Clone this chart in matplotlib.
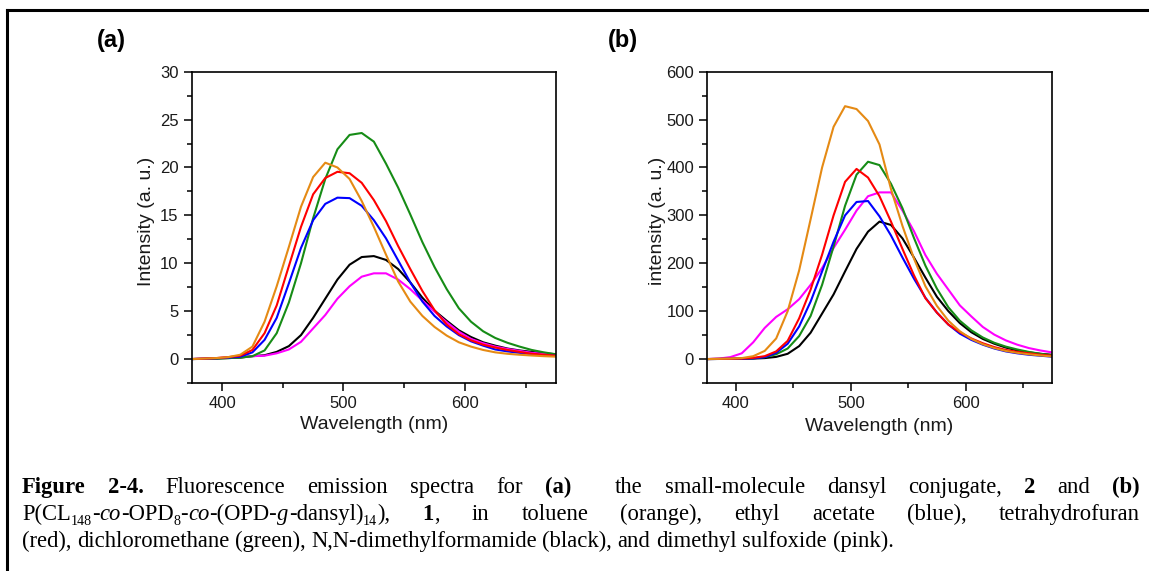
import matplotlib
matplotlib.use("Agg")
import matplotlib.pyplot as plt
from matplotlib.ticker import MultipleLocator
from matplotlib.lines import Line2D
from matplotlib.transforms import IdentityTransform

# ---------------- data ----------------
wavelength = list(range(375, 676, 10))  # nm

# panel (a): small-molecule dansyl conjugate 2
a_toluene = [0.0, 0.05, 0.1, 0.2, 0.45, 1.3, 3.9, 7.6, 11.7, 15.9, 19.0, 20.5, 20.0, 18.8, 16.5, 13.8,
             10.9, 8.1, 6.0, 4.5, 3.35, 2.45, 1.75, 1.3, 0.95, 0.7, 0.55, 0.45, 0.37, 0.3, 0.25]
a_ethyl_acetate = [0.0, 0.03, 0.08, 0.15, 0.25, 0.7, 2.0, 4.3, 7.9, 11.6, 14.5, 16.2, 16.85, 16.8, 16.0, 14.5,
                   12.6, 10.3, 8.0, 6.0, 4.5, 3.4, 2.5, 1.85, 1.4, 1.0, 0.8, 0.65, 0.5, 0.4, 0.35]
a_thf = [0.0, 0.05, 0.1, 0.2, 0.35, 0.95, 2.7, 5.6, 9.7, 13.8, 17.2, 18.9, 19.55, 19.4, 18.4, 16.6,
         14.4, 11.8, 9.4, 7.1, 5.1, 3.6, 2.6, 1.95, 1.5, 1.2, 0.95, 0.75, 0.55, 0.45, 0.35]
a_dcm = [0.0, 0.02, 0.05, 0.1, 0.15, 0.3, 0.9, 2.7, 5.9, 10.0, 14.7, 18.8, 21.9, 23.4, 23.6, 22.7,
         20.4, 17.9, 15.1, 12.2, 9.6, 7.3, 5.3, 3.9, 2.9, 2.2, 1.7, 1.3, 0.95, 0.7, 0.5]
a_dmf = [0.0, 0.02, 0.05, 0.1, 0.15, 0.3, 0.4, 0.75, 1.35, 2.5, 4.3, 6.3, 8.3, 9.85, 10.65, 10.75,
         10.35, 9.4, 8.0, 6.4, 5.05, 4.0, 3.0, 2.3, 1.75, 1.4, 1.1, 0.9, 0.75, 0.6, 0.5]
a_dmso = [0.0, 0.05, 0.1, 0.15, 0.2, 0.3, 0.35, 0.6, 1.0, 1.8, 3.2, 4.6, 6.3, 7.6, 8.6, 8.95,
          8.95, 8.3, 7.3, 6.1, 4.95, 3.85, 2.85, 2.1, 1.65, 1.3, 1.05, 0.85, 0.65, 0.55, 0.45]

# panel (b): polymer 1
b_toluene = [0, 0.5, 1, 2, 6, 17, 43, 100, 185, 292, 400, 485, 528, 522, 497, 448,
             355, 278, 210, 152, 111, 80, 58, 42, 31, 23, 17, 13, 10, 7.5, 5.5]
b_ethyl_acetate = [0, 0.2, 0.4, 0.6, 1.5, 4, 13, 32, 68, 120, 183, 245, 300, 328, 330, 298,
                   258, 212, 168, 128, 97, 72, 53, 40, 30, 22, 16, 12, 9, 7, 5]
b_thf = [0, 0.3, 0.6, 1, 2.5, 6, 16, 38, 85, 145, 218, 300, 370, 397, 379, 340,
         287, 230, 175, 127, 97, 72, 56, 43, 33, 25, 19, 15, 12, 9, 7]
b_dcm = [0, 0.2, 0.5, 1, 1.5, 4, 10, 22, 48, 90, 155, 235, 320, 385, 412, 405,
         366, 315, 253, 195, 147, 108, 80, 60, 45, 34, 26, 20, 15, 11, 8]
b_dmf = [0, 0.2, 0.4, 0.6, 1, 2, 4.5, 11, 27, 55, 95, 135, 183, 230, 266, 287,
         280, 252, 212, 170, 130, 100, 75, 56, 42, 32, 24, 18, 14, 11, 9]
b_dmso = [0, 1, 4, 12, 35, 65, 88, 104, 125, 155, 190, 232, 270, 310, 340, 348,
          348, 310, 267, 217, 178, 145, 112, 89, 67, 51, 39, 30, 23, 18, 14]

solvent_colors = ["#E58A14", "#0000FF", "#FF0000", "#168C16", "#000000", "#FF00FF"]
panel_a = [a_toluene, a_ethyl_acetate, a_thf, a_dcm, a_dmf, a_dmso]
panel_b = [b_toluene, b_ethyl_acetate, b_thf, b_dcm, b_dmf, b_dmso]
draw_order = [4, 5, 3, 1, 2, 0]

x_ticks = [400, 500, 600]
a_yticks = [0, 5, 10, 15, 20, 25, 30]
b_yticks = [0, 100, 200, 300, 400, 500, 600]

# ---------------- figure ----------------
W, H, DPI = 1149, 571, 100
fig = plt.figure(figsize=(W / DPI, H / DPI), dpi=DPI)
plt.rcParams["font.family"] = ["Liberation Sans", "DejaVu Sans"]

def px_axes(l, t, r, b):
    return fig.add_axes([l / W, 1 - b / H, (r - l) / W, (b - t) / H])

ax_a = px_axes(191.7, 71.7, 556, 383)
ax_b = px_axes(707.3, 71.7, 1051.7, 383)

def style_axis(ax, yticks, ylim, yminor, ylabel, ylab_x, xlab_y):
    ax.set_xlim(375, 675)
    ax.set_ylim(*ylim)
    ax.set_xticks(x_ticks)
    ax.set_yticks(yticks)
    ax.xaxis.set_minor_locator(MultipleLocator(50))
    ax.yaxis.set_minor_locator(MultipleLocator(yminor))
    ax.tick_params(which="major", direction="out", length=5.5, width=1.1,
                   labelsize=12, pad=4, colors="black", labelcolor="#1a1a1a",
                   top=False, right=False)
    ax.tick_params(which="minor", direction="out", length=3.3, width=1.1,
                   top=False, right=False)
    for s in ax.spines.values():
        s.set_linewidth(1.2)
    ax.set_xlabel("Wavelength (nm)", fontsize=14, color="#1a1a1a", va="center")
    ax.set_ylabel(ylabel, fontsize=14, color="#1a1a1a", va="center")
    ax.xaxis.set_label_coords(0.5, xlab_y)
    ax.yaxis.set_label_coords(ylab_x, 0.52)

for i in draw_order:
    ax_a.plot(wavelength, panel_a[i], color=solvent_colors[i], lw=1.5)
    ax_b.plot(wavelength, panel_b[i], color=solvent_colors[i], lw=1.5)

style_axis(ax_a, a_yticks, (-2.5, 30), 2.5, "Intensity (a. u.)", -0.123, -0.132)
style_axis(ax_b, b_yticks, (-50, 600), 50, "intensity (a. u.)", -0.146, -0.14)

# panel labels
fig.text(97, H - 40, "(a)", transform=IdentityTransform(), fontsize=17,
         weight="bold", va="center", ha="left")
fig.text(608, H - 40, "(b)", transform=IdentityTransform(), fontsize=17,
         weight="bold", va="center", ha="left")

# frame lines of the figure box
fig.add_artist(Line2D([7, W], [H - 10, H - 10], transform=IdentityTransform(),
                      color="black", lw=2.2))
fig.add_artist(Line2D([7, 7], [0, H - 10], transform=IdentityTransform(),
                      color="black", lw=2.2))

# ---------------- caption ----------------
renderer = fig.canvas.get_renderer()
SERIF = "Liberation Serif"

line1 = [[("Figure", "b")], [("2-4.", "b")], [("Fluorescence", "n")], [("emission", "n")],
         [("spectra", "n")], [("for", "n")], [("(a)", "b")], [("", "n")], [("the", "n")],
         [("small-molecule", "n")], [("dansyl", "n")], [("conjugate,", "n")],
         [("2", "b")], [("and", "n")], [("(b)", "b")]]
line2 = [[("P(CL", "n"), ("148", "sub"), ("-", "n"), ("co", "i"), ("-OPD", "n"), ("8", "sub"),
          ("-", "n"), ("co", "i"), ("-(OPD-", "n"), ("g", "i"), ("-dansyl)", "n"), ("14", "sub"),
          ("),", "n")],
         [("1", "b"), (",", "n")], [("in", "n")], [("toluene", "n")], [("(orange),", "n")],
         [("ethyl", "n")], [("acetate", "n")], [("(blue),", "n")], [("tetrahydrofuran", "n")]]
line3_text = ("(red), dichloromethane (green), N,N-dimethylformamide (black), "
              "and dimethyl sulfoxide (pink).")
line3 = [[(w, "n")] for w in line3_text.split(" ")]

def make_word(runs, size):
    arts = []
    for text, st in runs:
        kw = dict(fontsize=size, family=SERIF, va="baseline", ha="left",
                  transform=IdentityTransform(), color="black")
        if st == "b":
            kw["weight"] = "bold"
        if st == "i":
            kw["style"] = "italic"
        if st == "sub":
            kw["fontsize"] = size * 0.62
        t = fig.text(0, 0, text, **kw)
        arts.append((t, st == "sub"))
    return arts

def twidth(t):
    if t.get_text() == "":
        return 0.0
    return t.get_window_extent(renderer).width

def wwidth(arts):
    return sum(twidth(t) for t, _ in arts)

def place(arts, x, yb, size):
    for t, sub in arts:
        dy = -0.22 * size * DPI / 72 if sub else 0
        t.set_position((x, yb + dy))
        x += twidth(t)
    return x

# font size chosen so that line 3 spans like in the reference
probe = fig.text(0, 0, line3_text, fontsize=14, family=SERIF, transform=IdentityTransform())
pw = probe.get_window_extent(renderer).width
probe.remove()
size = 14 * 875 / pw

sp_probe1 = fig.text(0, 0, "a a", fontsize=size, family=SERIF, transform=IdentityTransform())
sp_probe2 = fig.text(0, 0, "aa", fontsize=size, family=SERIF, transform=IdentityTransform())
space_w = sp_probe1.get_window_extent(renderer).width - sp_probe2.get_window_extent(renderer).width
sp_probe1.remove()
sp_probe2.remove()

X0, X1 = 22, 1140

def layout_line(words, yb, justify):
    arts = [make_word(w, size) for w in words]
    widths = [wwidth(a) for a in arts]
    if justify:
        gap = (X1 - X0 - sum(widths)) / (len(arts) - 1)
    else:
        gap = space_w
    x = X0
    for a, w in zip(arts, widths):
        place(a, x, yb, size)
        x += w + gap

layout_line(line1, H - 493, True)
layout_line(line2, H - 520, True)
layout_line(line3, H - 547, False)

fig.savefig("out.png", dpi=DPI)
